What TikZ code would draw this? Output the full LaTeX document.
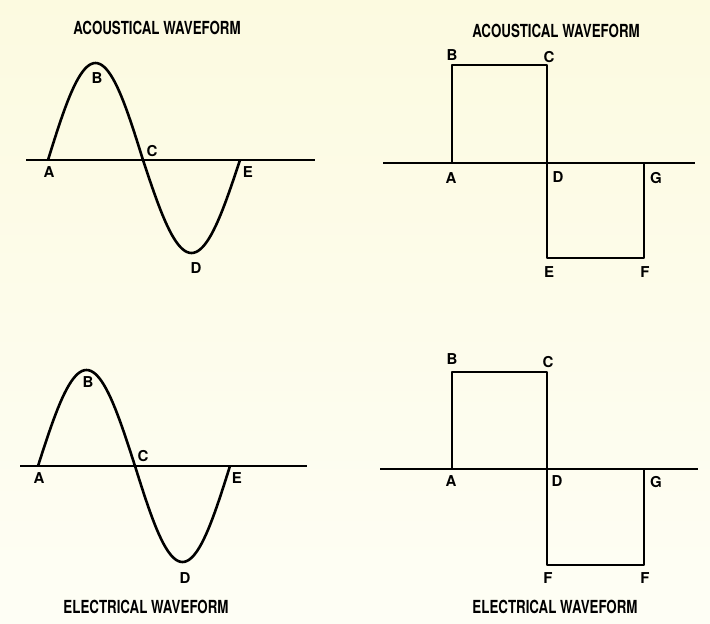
\documentclass[tikz,border=0pt]{standalone}
\usepackage{fontspec}
\setsansfont{TeX Gyre Heros}
\usepackage{tikz}

\definecolor{papertop}{RGB}{252,250,224}
\definecolor{paperbot}{RGB}{254,254,245}

\tikzset{
  axis/.style={line width=2pt},
  wave/.style={line width=2.6pt,line join=round},
  lbl/.style={font=\sffamily\bfseries\fontsize{15}{15}\selectfont,inner sep=0pt},
  title/.style={font=\sffamily\bfseries\fontsize{18}{18}\selectfont,inner sep=0pt,
    xscale=0.74,transform shape}
}

\begin{document}
\begin{tikzpicture}[x=1pt,y=-1pt]
  \shade[top color=papertop,bottom color=paperbot] (0,0) rectangle (710,624);
  \useasboundingbox (0,0) rectangle (710,624);

  % top left: acoustical sine
  \coordinate (sa) at (26,160);   \coordinate (sb) at (315,160);
  \draw[axis] (sa) -- (sb);
  \draw[wave] plot[domain=0:180,samples=45] ({48+\x/180*95},{160-97*sin(\x)})
    -- plot[domain=0:180,samples=45] ({143+\x/180*97},{160+93*sin(\x)});
  \node[title] (t1) at (157,28) {ACOUSTICAL WAVEFORM};
  \node[lbl] (a1) at (49,172) {A};
  \node[lbl] (b1) at (97,78) {B};
  \node[lbl] (c1) at (152,151) {C};
  \node[lbl] (d1) at (196,268) {D};
  \node[lbl] (e1) at (248,172) {E};

  % top right: acoustical square
  \coordinate (qa) at (383,163);  \coordinate (qb) at (695,163);
  \coordinate (A2) at (452,163);  \coordinate (B2) at (452,65);
  \coordinate (C2) at (547,65);   \coordinate (E2) at (547,258);
  \coordinate (F2) at (644,258);  \coordinate (G2) at (644,163);
  \draw[axis] (qa) -- (qb);
  \draw[wave] (A2) -- (B2) -- (C2) -- (E2) -- (F2) -- (G2);
  \node[title] (t2) at (556,31) {ACOUSTICAL WAVEFORM};
  \node[lbl] (b2) at (452,55) {B};
  \node[lbl] (c2) at (549,57) {C};
  \node[lbl] (a2) at (451,178) {A};
  \node[lbl] (d2) at (558,177) {D};
  \node[lbl] (g2) at (656,178) {G};
  \node[lbl] (e2) at (549,272) {E};
  \node[lbl] (f2) at (645,272) {F};

  % bottom left: electrical sine
  \coordinate (sc) at (20,466);   \coordinate (sd) at (307,466);
  \draw[axis] (sc) -- (sd);
  \draw[wave] plot[domain=0:180,samples=45] ({38+\x/180*97},{466-96*sin(\x)})
    -- plot[domain=0:180,samples=45] ({135+\x/180*95},{466+96*sin(\x)});
  \node[title] (t3) at (146,607) {ELECTRICAL WAVEFORM};
  \node[lbl] (a3) at (39,478) {A};
  \node[lbl] (b3) at (88,382) {B};
  \node[lbl] (c3) at (143,456) {C};
  \node[lbl] (d3) at (185,578) {D};
  \node[lbl] (e3) at (237,478) {E};

  % bottom right: electrical square
  \coordinate (qc) at (380,469);  \coordinate (qd) at (698,469);
  \coordinate (A4) at (452,469);  \coordinate (B4) at (452,372);
  \coordinate (C4) at (547,372);  \coordinate (E4) at (547,565);
  \coordinate (F4) at (644,565);  \coordinate (G4) at (644,469);
  \draw[axis] (qc) -- (qd);
  \draw[wave] (A4) -- (B4) -- (C4) -- (E4) -- (F4) -- (G4);
  \node[title] (t4) at (555,607) {ELECTRICAL WAVEFORM};
  \node[lbl] (b4) at (452,359) {B};
  \node[lbl] (c4) at (548,362) {C};
  \node[lbl] (a4) at (451,481) {A};
  \node[lbl] (d4) at (557,481) {D};
  \node[lbl] (g4) at (656,482) {G};
  \node[lbl] (e4) at (548,578) {F};
  \node[lbl] (f4) at (645,578) {F};
\end{tikzpicture}
\end{document}
